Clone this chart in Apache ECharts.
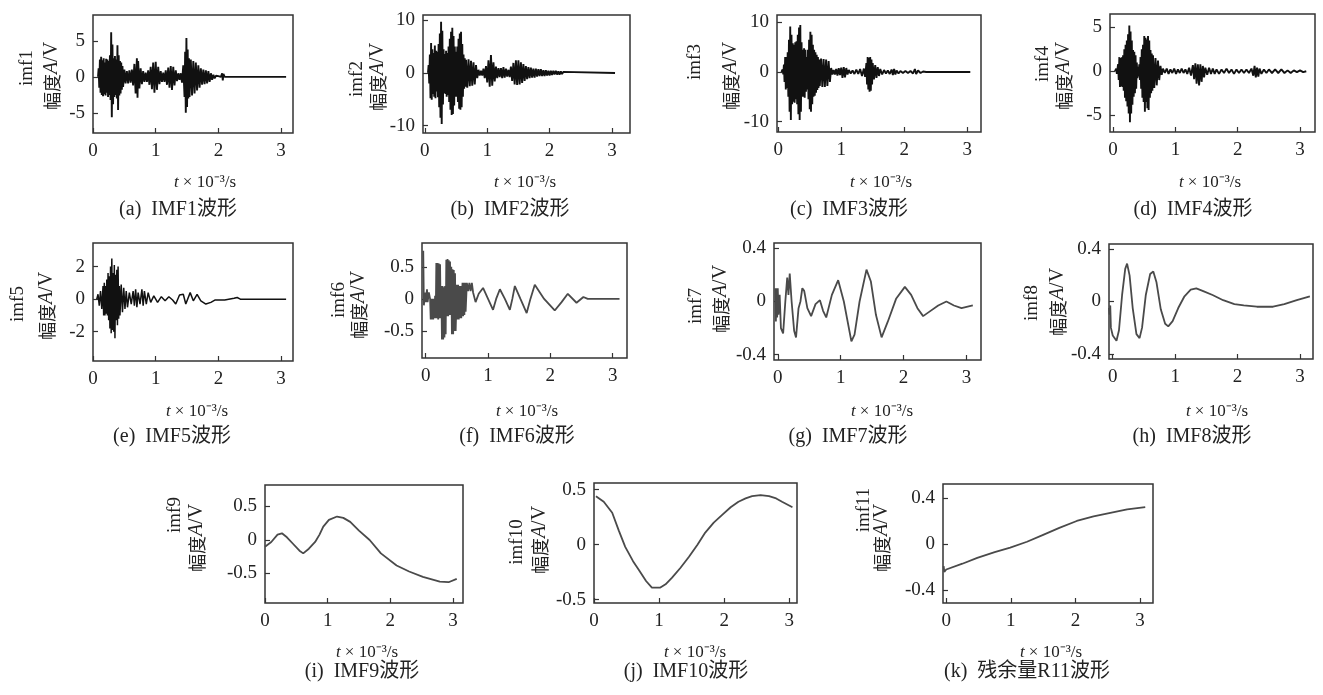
<!DOCTYPE html>
<html>
<head>
<meta charset="utf-8">
<script src="https://cdn.jsdelivr.net/npm/echarts@6/dist/echarts.min.js"></script>
<style>
  html, body { margin: 0; padding: 0; background: #fff; }
  #main { width: 1323px; height: 695px; }
</style>
</head>
<body>
<div id="main"></div>
<script>
// 各分量波形数据 [t(×10^-3 s), 幅度]
const imf1 = [[0.08,0],[0.09,1.2],[0.1,-1.5],[0.11,2.4],[0.12,-2.2],[0.13,2.8],[0.14,-2.5],[0.15,2.3],[0.16,-2.7],[0.17,2.6],[0.18,-2.4],[0.19,2.0],[0.2,-2.6],[0.21,2.5],[0.22,-2.2],[0.23,2.4],[0.24,-2.8],[0.25,2.2],[0.26,-2.5],[0.27,3.0],[0.28,-3.2],[0.29,6.2],[0.3,-5.6],[0.31,4.5],[0.32,-3.8],[0.33,2.6],[0.34,-2.8],[0.35,2.9],[0.36,-2.5],[0.37,2.4],[0.38,-3.0],[0.39,4.4],[0.4,-4.6],[0.41,3.0],[0.42,-2.6],[0.43,2.2],[0.44,-2.3],[0.45,2.0],[0.46,-1.8],[0.47,1.5],[0.48,-1.4],[0.5,1.0],[0.52,-0.9],[0.54,0.8],[0.56,-0.9],[0.58,0.9],[0.6,-0.8],[0.62,1.0],[0.64,-1.2],[0.66,1.8],[0.68,-2.3],[0.7,2.6],[0.71,-2.9],[0.72,2.2],[0.74,-1.6],[0.76,1.2],[0.78,-1.0],[0.8,0.8],[0.82,-0.7],[0.84,0.6],[0.86,-0.7],[0.88,0.9],[0.9,-1.1],[0.92,1.4],[0.94,-1.7],[0.96,2.0],[0.98,-2.2],[1.0,2.1],[1.02,-1.8],[1.04,1.4],[1.06,-1.0],[1.08,0.8],[1.1,-0.7],[1.12,0.6],[1.14,-0.7],[1.16,0.9],[1.18,-1.1],[1.2,1.3],[1.22,-1.5],[1.24,1.5],[1.26,-1.8],[1.28,1.4],[1.3,-1.2],[1.32,0.9],[1.34,-0.6],[1.36,0.5],[1.38,-0.4],[1.4,0.5],[1.42,-0.8],[1.44,1.6],[1.46,-2.8],[1.47,3.5],[1.48,-5.0],[1.49,5.4],[1.5,-4.2],[1.51,3.8],[1.52,-3.0],[1.53,2.6],[1.54,-2.8],[1.56,2.4],[1.58,-2.6],[1.6,2.2],[1.62,-2.3],[1.64,2.0],[1.66,-1.9],[1.68,1.6],[1.7,-1.5],[1.72,1.2],[1.74,-1.1],[1.76,1.0],[1.78,-1.0],[1.8,0.9],[1.82,-0.9],[1.84,0.8],[1.86,-0.7],[1.88,0.5],[1.9,-0.4],[1.92,0.3],[1.94,-0.2],[1.96,0.15],[1.98,-0.1],[2.0,0.1],[2.04,0],[2.06,0.5],[2.07,-0.5],[2.08,0.4],[2.1,0],[3.08,0]];
const imf2 = [[0.05,0],[0.06,1.5],[0.07,-2],[0.08,3.5],[0.09,-4.8],[0.1,5.7],[0.11,-5.1],[0.12,4.5],[0.13,-4.0],[0.14,3.8],[0.15,-4.5],[0.16,5.2],[0.17,-4.8],[0.18,4.2],[0.19,-3.5],[0.2,4.0],[0.21,-4.6],[0.22,5.5],[0.23,-6.5],[0.24,7.5],[0.25,-8.5],[0.26,9.7],[0.27,-9.7],[0.28,8.0],[0.29,-6.0],[0.3,4.5],[0.31,-3.8],[0.32,3.6],[0.33,-4.0],[0.34,4.2],[0.35,-4.5],[0.36,3.8],[0.37,-4.2],[0.38,5.0],[0.39,-5.5],[0.4,6.5],[0.41,-7.0],[0.42,7.8],[0.43,-8.0],[0.44,8.6],[0.45,-7.8],[0.46,7.0],[0.47,-6.2],[0.48,5.0],[0.49,-4.5],[0.5,4.0],[0.51,-4.5],[0.52,5.0],[0.53,-5.5],[0.54,6.5],[0.55,-6.8],[0.56,7.5],[0.57,-7.0],[0.58,7.8],[0.59,-6.5],[0.6,5.5],[0.61,-4.5],[0.62,3.5],[0.63,-3.0],[0.64,2.8],[0.65,-2.6],[0.66,2.5],[0.68,-2.8],[0.7,2.6],[0.72,-2.5],[0.74,2.3],[0.76,-2.4],[0.78,2.0],[0.8,-2.2],[0.82,1.5],[0.84,-1.0],[0.86,0.6],[0.88,-0.5],[0.9,0.4],[0.92,-0.5],[0.94,0.8],[0.96,-1.0],[0.98,1.3],[1.0,-1.8],[1.02,2.4],[1.04,-2.6],[1.06,3.4],[1.08,-2.4],[1.1,2.0],[1.12,-1.6],[1.14,1.2],[1.16,-1.0],[1.18,0.9],[1.2,-0.8],[1.22,0.9],[1.24,-1.0],[1.26,1.1],[1.28,-0.9],[1.3,0.8],[1.32,-0.7],[1.34,0.6],[1.36,-0.8],[1.38,1.2],[1.4,-1.5],[1.42,1.9],[1.44,-2.2],[1.46,2.4],[1.48,-2.3],[1.5,2.4],[1.52,-2.2],[1.54,2.0],[1.56,-1.9],[1.58,1.7],[1.6,-1.5],[1.62,1.3],[1.64,-1.2],[1.66,1.1],[1.68,-1.0],[1.7,1.0],[1.72,-0.9],[1.74,0.8],[1.76,-0.9],[1.78,0.8],[1.8,-0.7],[1.82,0.7],[1.84,-0.6],[1.86,0.7],[1.88,-0.6],[1.9,0.5],[1.92,-0.6],[1.94,0.5],[1.96,-0.5],[1.98,0.4],[2.0,-0.5],[2.02,0.4],[2.04,-0.4],[2.06,0.4],[2.08,-0.3],[2.1,0.4],[2.12,-0.3],[2.14,0.3],[2.16,-0.3],[2.18,0.3],[2.2,-0.2],[2.22,0.2],[2.25,0],[3.05,0]];
const imf3 = [[0.05,0],[0.07,0.5],[0.08,-0.5],[0.09,1.5],[0.1,-2.0],[0.11,3.0],[0.12,-3.5],[0.13,3.0],[0.14,-3.2],[0.15,4.0],[0.16,-5.0],[0.17,6.5],[0.18,-8.0],[0.19,9.2],[0.2,-9.7],[0.21,7.5],[0.22,-6.5],[0.23,5.8],[0.24,-6.0],[0.25,5.5],[0.26,-6.2],[0.27,6.0],[0.28,-5.5],[0.29,6.2],[0.3,-6.5],[0.31,7.5],[0.32,-8.5],[0.33,9.0],[0.34,-9.7],[0.35,9.5],[0.36,-8.0],[0.37,6.0],[0.38,-5.0],[0.39,4.5],[0.4,-5.0],[0.41,4.8],[0.42,-5.2],[0.43,4.5],[0.44,-4.0],[0.45,3.0],[0.46,-3.5],[0.47,4.5],[0.48,-5.5],[0.49,6.5],[0.5,-7.5],[0.51,8.1],[0.52,-8.0],[0.53,7.5],[0.54,-6.5],[0.55,5.5],[0.56,-5.0],[0.57,4.5],[0.58,-4.8],[0.59,4.0],[0.6,-4.2],[0.61,3.5],[0.62,-3.6],[0.63,3.0],[0.64,-3.2],[0.65,2.5],[0.66,-2.8],[0.68,2.7],[0.7,-3.0],[0.72,2.6],[0.74,-3.0],[0.76,2.5],[0.78,-2.8],[0.8,2.2],[0.82,-2.0],[0.84,0.8],[0.86,-0.5],[0.88,0.4],[0.9,-0.5],[0.92,0.6],[0.94,-0.7],[0.96,0.8],[0.98,-0.6],[1.0,0.9],[1.02,-1.2],[1.04,1.0],[1.06,-1.1],[1.08,0.8],[1.1,-0.5],[1.12,0.4],[1.15,-0.3],[1.18,0.3],[1.21,-0.4],[1.24,0.5],[1.27,-0.4],[1.3,0.6],[1.33,-0.8],[1.36,0.7],[1.38,-1.0],[1.4,1.8],[1.41,-2.5],[1.42,3.0],[1.43,-3.5],[1.44,2.8],[1.45,-4.0],[1.46,3.0],[1.47,-3.8],[1.48,2.5],[1.49,-2.5],[1.5,1.8],[1.52,-1.5],[1.54,1.4],[1.56,-1.2],[1.58,1.0],[1.6,-0.8],[1.62,0.6],[1.65,-0.5],[1.68,0.4],[1.71,-0.3],[1.74,0.3],[1.77,-0.4],[1.8,0.5],[1.82,-0.6],[1.84,0.6],[1.86,-0.5],[1.88,0.3],[1.91,-0.3],[1.94,0.2],[1.98,-0.2],[2.02,0.2],[2.06,-0.2],[2.1,0.2],[2.14,-0.3],[2.17,0.6],[2.19,-0.4],[2.22,0.3],[2.26,-0.2],[2.3,0.1],[2.35,0],[3.05,0]];
const imf4 = [[0.03,0],[0.05,0.3],[0.06,-0.3],[0.08,0.8],[0.09,-1.0],[0.1,1.6],[0.11,-1.8],[0.12,1.5],[0.13,-1.7],[0.14,1.6],[0.15,-1.8],[0.16,1.8],[0.17,-2.2],[0.18,2.5],[0.19,-3.0],[0.2,3.0],[0.21,-3.4],[0.22,3.5],[0.23,-4.0],[0.24,4.2],[0.25,-4.8],[0.26,5.2],[0.27,-5.8],[0.28,4.5],[0.29,-4.8],[0.3,3.5],[0.31,-3.8],[0.32,2.4],[0.33,-2.9],[0.34,2.2],[0.35,-2.5],[0.36,1.8],[0.37,-2.0],[0.38,1.0],[0.39,-0.8],[0.4,0.5],[0.41,-0.6],[0.42,0.8],[0.43,-1.0],[0.44,1.6],[0.45,-2.0],[0.46,2.5],[0.47,-3.0],[0.48,3.0],[0.49,-3.5],[0.5,4.0],[0.51,-4.6],[0.52,3.8],[0.53,-3.5],[0.54,3.6],[0.55,-4.2],[0.56,4.0],[0.57,-4.4],[0.58,3.5],[0.59,-3.0],[0.6,2.4],[0.61,-2.5],[0.62,2.0],[0.63,-2.2],[0.64,1.8],[0.66,-1.9],[0.68,1.5],[0.7,-1.6],[0.72,1.2],[0.74,-1.0],[0.76,0.6],[0.78,-0.4],[0.8,0.3],[0.83,-0.2],[0.86,0.3],[0.89,-0.3],[0.92,0.2],[0.95,-0.2],[0.98,0.3],[1.01,-0.3],[1.04,0.2],[1.07,-0.2],[1.1,0.3],[1.13,-0.2],[1.16,0.2],[1.19,-0.3],[1.22,0.4],[1.25,-0.5],[1.28,0.7],[1.3,-0.9],[1.32,0.9],[1.34,-1.4],[1.36,0.8],[1.38,-1.6],[1.4,0.8],[1.42,-1.2],[1.44,0.6],[1.46,-0.7],[1.48,0.4],[1.51,-0.4],[1.54,0.4],[1.57,-0.3],[1.6,0.3],[1.63,-0.3],[1.66,0.2],[1.7,-0.3],[1.74,0.2],[1.78,-0.2],[1.82,0.3],[1.86,-0.2],[1.9,0.2],[1.94,-0.3],[1.98,0.2],[2.02,-0.2],[2.06,0.2],[2.1,-0.2],[2.14,0.2],[2.18,-0.2],[2.22,0.3],[2.25,-0.5],[2.27,0.6],[2.29,-0.7],[2.31,0.4],[2.33,-0.6],[2.35,0.3],[2.38,-0.3],[2.42,0.2],[2.46,-0.2],[2.5,0.2],[2.55,-0.2],[2.6,0.2],[2.65,-0.2],[2.7,0.2],[2.75,-0.2],[2.8,0.1],[2.85,-0.2],[2.9,0.1],[2.95,-0.1],[3.0,0.1],[3.05,-0.1],[3.1,0]];
const imf5 = [[0.06,0],[0.08,0.3],[0.1,-0.4],[0.12,0.5],[0.14,-0.6],[0.16,0.8],[0.17,-1.0],[0.18,1.0],[0.19,-1.0],[0.2,0.8],[0.21,-0.9],[0.22,1.2],[0.23,-1.0],[0.24,1.6],[0.25,-1.3],[0.26,1.4],[0.27,-1.8],[0.28,2.0],[0.29,-2.1],[0.3,2.5],[0.31,-1.9],[0.32,1.6],[0.33,-2.0],[0.34,2.1],[0.35,-2.4],[0.36,1.5],[0.37,-1.3],[0.38,1.8],[0.39,-1.6],[0.4,2.0],[0.41,-1.2],[0.42,0.8],[0.43,-1.0],[0.45,0.9],[0.47,-0.8],[0.49,0.7],[0.51,-0.6],[0.53,0.5],[0.55,-0.5],[0.58,0.4],[0.61,-0.3],[0.64,0.5],[0.66,-0.4],[0.68,0.6],[0.7,-0.5],[0.72,0.4],[0.75,-0.3],[0.78,0.6],[0.8,-0.4],[0.82,0.5],[0.85,-0.3],[0.88,0.4],[0.92,-0.2],[0.97,0.2],[1.03,-0.2],[1.09,0.15],[1.15,-0.1],[1.21,0.15],[1.27,-0.05],[1.32,-0.3],[1.38,0.25],[1.44,0.3],[1.48,-0.3],[1.55,0.4],[1.6,-0.1],[1.66,0.3],[1.72,-0.1],[1.8,-0.3],[1.88,-0.2],[1.95,-0.05],[2.1,-0.05],[2.25,0.05],[2.3,0.1],[2.35,0],[2.6,0],[3.08,0]];
const imf6 = [[-0.04,0.75],[-0.03,-0.1],[-0.01,0.1],[0.0,-0.05],[0.02,0.15],[0.03,-0.05],[0.05,0.1],[0.07,0],[0.08,-0.32],[0.09,0],[0.1,-0.32],[0.11,0],[0.12,-0.32],[0.13,0.0],[0.14,-0.3],[0.15,0.05],[0.16,-0.3],[0.17,0.56],[0.18,-0.3],[0.19,0.56],[0.2,-0.32],[0.21,0.55],[0.22,-0.3],[0.23,0.54],[0.24,-0.3],[0.25,0.2],[0.26,-0.63],[0.27,0.2],[0.28,-0.63],[0.29,0.18],[0.3,-0.6],[0.31,0.2],[0.32,-0.55],[0.33,0.61],[0.34,-0.27],[0.35,0.62],[0.36,-0.27],[0.37,0.6],[0.38,-0.25],[0.39,0.58],[0.4,-0.25],[0.41,0.5],[0.42,-0.55],[0.43,0.46],[0.44,-0.55],[0.45,0.45],[0.46,-0.5],[0.47,0.4],[0.48,-0.5],[0.5,0.22],[0.51,-0.32],[0.52,0.22],[0.53,-0.32],[0.54,0.2],[0.55,-0.3],[0.56,0.2],[0.57,-0.3],[0.59,0.25],[0.6,-0.27],[0.61,0.25],[0.62,-0.25],[0.63,0.25],[0.64,-0.2],[0.66,0.25],[0.68,0.12],[0.7,0.25],[0.72,0.12],[0.74,0.25],[0.76,0.1],[0.8,-0.05],[0.85,0.08],[0.92,0.17],[1.0,0.0],[1.08,-0.17],[1.13,0.0],[1.19,0.15],[1.27,0.0],[1.35,-0.17],[1.39,0.0],[1.43,0.2],[1.52,0.0],[1.62,-0.22],[1.68,0.0],[1.75,0.22],[1.9,0.0],[2.07,-0.18],[2.18,-0.05],[2.28,0.08],[2.42,-0.06],[2.53,0.03],[2.6,0.0],[3.11,0.0]];
const imf7 = [[-0.04,0.1],[-0.03,-0.15],[-0.02,0.1],[-0.01,-0.12],[0.0,0.1],[0.01,-0.1],[0.03,0.05],[0.05,-0.2],[0.085,-0.24],[0.12,0.0],[0.15,0.18],[0.17,0.05],[0.19,0.21],[0.22,0.0],[0.26,-0.22],[0.29,-0.27],[0.33,-0.05],[0.36,0.0],[0.39,0.1],[0.42,0.08],[0.47,-0.05],[0.53,-0.11],[0.6,-0.02],[0.67,0.01],[0.72,-0.07],[0.77,-0.12],[0.86,0.05],[0.96,0.16],[1.05,0.0],[1.17,-0.3],[1.22,-0.25],[1.3,0.0],[1.41,0.24],[1.48,0.15],[1.56,-0.1],[1.65,-0.27],[1.75,-0.15],[1.88,0.02],[2.02,0.11],[2.12,0.05],[2.22,-0.05],[2.31,-0.11],[2.4,-0.08],[2.55,-0.03],[2.68,0.0],[2.8,-0.03],[2.92,-0.05],[3.1,-0.03]];
const imf8 = [[-0.06,-0.05],[-0.05,-0.1],[-0.04,-0.03],[-0.03,-0.2],[0.0,-0.26],[0.06,-0.3],[0.1,-0.22],[0.15,0.05],[0.2,0.25],[0.23,0.29],[0.27,0.2],[0.32,-0.05],[0.38,-0.25],[0.43,-0.28],[0.47,-0.2],[0.53,0.05],[0.6,0.21],[0.65,0.23],[0.7,0.15],[0.77,-0.06],[0.84,-0.17],[0.89,-0.19],[0.96,-0.15],[1.05,-0.05],[1.15,0.04],[1.25,0.09],[1.34,0.1],[1.45,0.08],[1.6,0.05],[1.77,0.01],[1.95,-0.02],[2.1,-0.03],[2.31,-0.04],[2.57,-0.04],[2.75,-0.02],[2.95,0.01],[3.16,0.04]];
const imf9 = [[0.0,-0.1],[0.1,-0.03],[0.2,0.08],[0.27,0.1],[0.35,0.04],[0.45,-0.06],[0.55,-0.16],[0.61,-0.2],[0.7,-0.13],[0.8,-0.03],[0.87,0.08],[0.93,0.2],[1.02,0.3],[1.15,0.35],[1.25,0.33],[1.36,0.27],[1.5,0.14],[1.67,0.0],[1.85,-0.2],[2.1,-0.38],[2.3,-0.47],[2.52,-0.55],[2.79,-0.62],[2.93,-0.63],[3.06,-0.58]];
const imf10 = [[0.03,0.44],[0.15,0.39],[0.28,0.29],[0.38,0.13],[0.48,-0.02],[0.6,-0.15],[0.69,-0.23],[0.8,-0.33],[0.89,-0.39],[1.02,-0.39],[1.1,-0.36],[1.2,-0.3],[1.33,-0.21],[1.46,-0.11],[1.59,0.0],[1.71,0.11],[1.84,0.2],[1.97,0.27],[2.1,0.34],[2.22,0.39],[2.33,0.42],[2.43,0.44],[2.56,0.45],[2.69,0.44],[2.8,0.42],[2.89,0.39],[3.05,0.34]];
const imf11 = [[-0.04,-0.19],[-0.03,-0.24],[0.0,-0.22],[0.25,-0.17],[0.48,-0.12],[0.75,-0.07],[0.99,-0.03],[1.25,0.02],[1.5,0.08],[1.75,0.14],[2.02,0.2],[2.28,0.24],[2.54,0.27],[2.8,0.3],[3.08,0.32]];

const xTicks = [0, 1, 2, 3];
const yTicks = [
  [-5, 0, 5], [-10, 0, 10], [-10, 0, 10], [-5, 0, 5],
  [-2, 0, 2], [-0.5, 0, 0.5], [-0.4, 0, 0.4], [-0.4, 0, 0.4],
  [-0.5, 0, 0.5], [-0.5, 0, 0.5], [-0.4, 0, 0.4]
];
const imfNames = ['imf1','imf2','imf3','imf4','imf5','imf6','imf7','imf8','imf9','imf10','imf11'];
const captions = ['(a)  IMF1波形','(b)  IMF2波形','(c)  IMF3波形','(d)  IMF4波形',
  '(e)  IMF5波形','(f)  IMF6波形','(g)  IMF7波形','(h)  IMF8波形',
  '(i)  IMF9波形','(j)  IMF10波形','(k)  残余量R11波形'];
const seriesData = [imf1, imf2, imf3, imf4, imf5, imf6, imf7, imf8, imf9, imf10, imf11];

// 布局：每个子图的绘图框 [left, top, width, height]
const boxes = [
  [93, 15, 200, 118], [423, 15, 207, 118], [777, 15, 204, 117], [1110, 14, 205, 118],
  [93, 243, 200, 118], [422, 243, 205, 115], [774, 243, 207, 117], [1109, 244, 204, 115],
  [265, 485, 198, 118], [594, 483, 203, 120], [943, 484, 210, 119]
];
// 坐标范围 [xmin, xmax, ymin, ymax]
const ranges = [
  [0, 3.19, -7.8, 8.6], [-0.03, 3.29, -11.4, 11.0], [-0.02, 3.22, -12.1, 11.5], [-0.05, 3.24, -6.9, 6.5],
  [0, 3.19, -3.8, 3.45], [-0.06, 3.23, -0.92, 0.87], [-0.06, 3.23, -0.44, 0.44], [-0.06, 3.21, -0.44, 0.44],
  [0, 3.16, -0.94, 0.82], [0, 3.12, -0.53, 0.56], [-0.05, 3.2, -0.51, 0.52]
];
// 文字位置 [imfX, imfY, ampX, ampY, xNameX, xNameY, capX, capY]
const textPos = [
  [27, 68, 52, 76, 205, 183, 178, 210],
  [357, 79, 378, 77, 525, 183, 510, 210],
  [695, 62, 731, 76, 881, 183, 849, 210],
  [1043, 64, 1064, 76, 1210, 183, 1193, 210],
  [18, 304, 47, 306, 197, 412, 172, 437],
  [339, 300, 359, 305, 527, 412, 517, 437],
  [696, 306, 721, 299, 882, 412, 848, 437],
  [1032, 303, 1058, 302, 1217, 412, 1192, 437],
  [175, 515, 197, 538, 367, 653, 362, 672],
  [517, 542, 540, 540, 695, 653, 686, 672],
  [864, 510, 882, 538, 1051, 653, 1027, 672]
];

const serif = "'Liberation Serif', 'Times New Roman', serif";
const mixed = "'Liberation Serif', 'Noto Sans CJK SC', serif";
const ink = '#222';

const chartDom = document.getElementById('main');
const myChart = echarts.init(chartDom, null, { renderer: 'canvas' });

const grid = [], xAxis = [], yAxis = [], series = [], graphic = [];

boxes.forEach((b, i) => {
  grid.push({
    left: b[0], top: b[1], width: b[2], height: b[3],
    show: true, borderColor: '#333', borderWidth: 1.5, backgroundColor: 'transparent'
  });
  const r = ranges[i];
  xAxis.push({
    type: 'value', gridIndex: i, min: r[0], max: r[1],
    axisLine: { show: false, onZero: false },
    axisTick: { show: true, inside: true, length: 5, customValues: xTicks, lineStyle: { color: '#333', width: 1.2 } },
    axisLabel: { customValues: xTicks, margin: 9, fontFamily: serif, fontSize: 19, color: ink },
    splitLine: { show: false }
  });
  yAxis.push({
    type: 'value', gridIndex: i, min: r[2], max: r[3],
    axisLine: { show: false, onZero: false },
    axisTick: { show: true, inside: true, length: 5, customValues: yTicks[i], lineStyle: { color: '#333', width: 1.2 } },
    axisLabel: { customValues: yTicks[i], margin: 8, fontFamily: serif, fontSize: 19, color: ink },
    splitLine: { show: false }
  });
  // 前四个分量为高频密集波形，线条加粗以呈现实心包络
  const width = i < 4 ? 1.9 : (i === 4 ? 1.5 : 1.8);
  series.push({
    type: 'line', xAxisIndex: i, yAxisIndex: i,
    data: seriesData[i], showSymbol: false, silent: true,
    lineStyle: { color: i < 5 ? '#111' : '#4a4a4a', width: width }
  });

  const p = textPos[i];
  graphic.push({
    type: 'text', x: p[0], y: p[1], rotation: Math.PI / 2,
    style: { text: imfNames[i], fontFamily: serif, fontSize: 19, fill: ink, align: 'center', verticalAlign: 'middle' }
  });
  graphic.push({
    type: 'text', x: p[2], y: p[3], rotation: Math.PI / 2,
    style: {
      text: '{c|幅度}{i|A}{n|/V}', align: 'center', verticalAlign: 'middle', fill: ink,
      rich: {
        c: { fontFamily: "'Noto Sans CJK SC'", fontSize: 18, fill: ink },
        i: { fontFamily: serif, fontStyle: 'italic', fontSize: 20, fill: ink },
        n: { fontFamily: serif, fontSize: 20, fill: ink }
      }
    }
  });
  graphic.push({
    type: 'text', x: p[4], y: p[5],
    style: {
      text: '{i|t} × 10⁻³/s', align: 'center', verticalAlign: 'middle', fill: ink,
      fontFamily: serif, fontSize: 17,
      rich: { i: { fontFamily: serif, fontStyle: 'italic', fontSize: 17, fill: ink } }
    }
  });
  graphic.push({
    type: 'text', x: p[6], y: p[7],
    style: { text: captions[i], fontFamily: mixed, fontSize: 20, fill: ink, align: 'center', verticalAlign: 'middle' }
  });
});

const option = {
  backgroundColor: '#fff',
  animation: false,
  grid: grid,
  xAxis: xAxis,
  yAxis: yAxis,
  series: series,
  graphic: graphic
};

option && myChart.setOption(option);
</script>
</body>
</html>
